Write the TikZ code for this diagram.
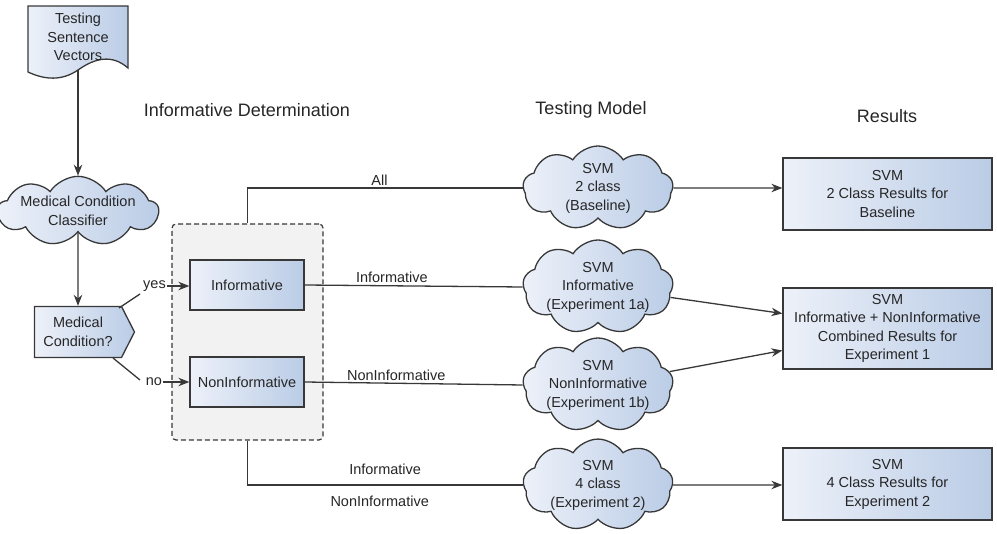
\documentclass[tikz,border=0pt]{standalone}
\usepackage{fontspec}
\setmainfont{Liberation Sans}
\usetikzlibrary{shapes.symbols,shapes.arrows,arrows.meta}
\definecolor{boxL}{HTML}{EDF1F9}
\definecolor{boxR}{HTML}{BACCE6}
\definecolor{edgec}{HTML}{383838}
\definecolor{contfill}{HTML}{F2F2F2}
\definecolor{txt}{HTML}{262626}
\begin{document}
\begin{tikzpicture}[x=1pt,y=-1pt,
  every node/.style={font=\fontsize{14.5}{18.5}\selectfont, text=txt},
  blueshade/.style={left color=boxL, right color=boxR, draw=edgec, line width=1.3pt},
  resbox/.style={blueshade, rectangle, minimum width=209pt, minimum height=72pt, align=center, inner sep=0pt},
  smallbox/.style={blueshade, rectangle, minimum width=114pt, minimum height=50pt, align=center, inner sep=0pt},
  cloudnode/.style={blueshade, cloud, cloud puffs=9, cloud puff arc=115, cloud ignores aspect, minimum width=150pt, minimum height=84pt, align=center, inner sep=0pt},
  heading/.style={font=\fontsize{18}{22}\selectfont},
  lbl/.style={inner sep=1pt},
  conn/.style={draw=edgec, line width=1.3pt},
  arr/.style={conn, -{Stealth[length=11pt,width=8.5pt]}}
]
\useasboundingbox (0,0) rectangle (997,534);

% document shape
\path[blueshade] (28,6) -- (128,6) -- (128,68)
   .. controls (112,54) and (95,58) .. (78,70)
   .. controls (62,81) and (45,80) .. (28,72) -- cycle;
\node[align=center] (doc) at (78,37) {Testing\\Sentence\\Vectors};
\coordinate (docb) at (78,70);

% classifier cloud
\node[cloudnode, cloud puffs=9, minimum width=139pt, minimum height=66pt] (mcc) at (78,211) {Medical Condition\\Classifier};

% decision pentagon
\node[blueshade, signal, signal to=east, signal pointer angle=126, minimum width=100pt, minimum height=51pt, inner sep=0pt, align=center] (mc) at (78,332) {Medical\\Condition?};

% headings
\node[heading] (h1) at (247,110) {Informative Determination};
\node[heading] (h2) at (591,110) {Testing Model};
\node[heading] (h3) at (887,116) {Results};

% container
\node[draw=edgec, dash pattern=on 5pt off 3pt, fill=contfill, rounded corners=4pt, line width=1.2pt, minimum width=151pt, minimum height=216pt] (cont) at (247.5,332) {};
\node[smallbox] (info) at (247,285) {Informative};
\node[smallbox] (noninfo) at (247,382) {NonInformative};

% clouds
\node[cloudnode] (c1) at (598,188) {SVM\\2 class\\(Baseline)};
\node[cloudnode] (c2) at (598,287) {SVM\\Informative\\(Experiment 1a)};
\node[cloudnode] (c3) at (598,385) {SVM\\NonInformative\\(Experiment 1b)};
\node[cloudnode] (c4) at (598,485) {SVM\\4 class\\(Experiment 2)};

% results
\node[resbox] (r1) at (887.5,194) {SVM\\2 Class Results for\\Baseline};
\node[resbox, minimum height=81pt] (r2) at (887.5,328.5) {SVM\\Informative + NonInformative\\Combined Results for\\Experiment 1};
\node[resbox] (r3) at (887.5,484) {SVM\\4 Class Results for\\Experiment 2};

% connectors left column
\draw[arr] (docb) -- (mcc);
\draw[arr] (mcc) -- (mc);

\coordinate (yk) at (140,294);
\draw[conn] (119,308) -- (yk);
\node[lbl] (yes) at (154.5,286) {yes};
\draw[arr] (yes.east) -- (yes.east -| info.west);

\coordinate (nk) at (140,380);
\draw[conn] (113,358) -- (nk);
\node[lbl] (no) at (154,382) {no};
\draw[arr] (no.east) -- (no.east -| noninfo.west);

% to clouds
\draw[conn] (cont.north) |- node[pos=0.74, above, yshift=-1pt] {All} (c1.west);
\draw[conn] (info.east) -- node[pos=0.4, above, yshift=-1pt] {Informative} (c2.west);
\draw[conn] (noninfo.east) -- node[pos=0.42, above, yshift=-1pt] {NonInformative} (c3.west);
\draw[conn] (cont.south) |- node[pos=0.75, above, yshift=6pt] {Informative} node[pos=0.74, below, yshift=-7pt] {NonInformative} (c4.west);

% to results
\draw[arr] (c1) -- (r1.west |- c1);
\draw[arr] (c2) -- ([yshift=15pt]r2.west);
\draw[arr] (c3) -- ([yshift=-22pt]r2.west);
\draw[arr] (c4) -- (r3.west |- c4);
\end{tikzpicture}
\end{document}
